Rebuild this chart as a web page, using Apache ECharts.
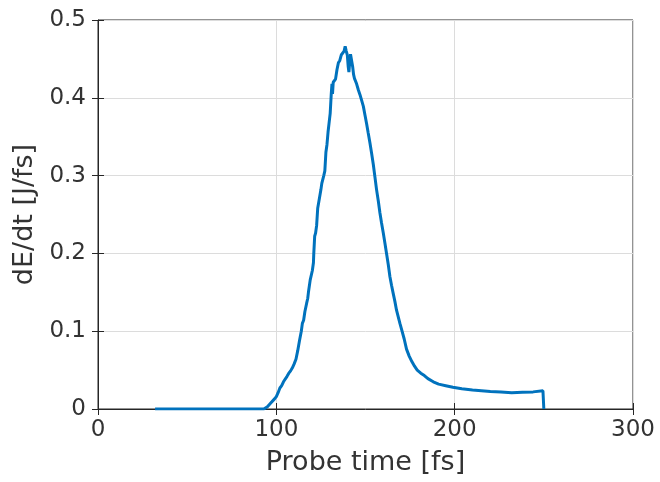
<!DOCTYPE html>
<html>
<head>
<meta charset="utf-8">
<script src="https://cdn.jsdelivr.net/npm/echarts@6/dist/echarts.min.js"></script>
<style>
  html, body { margin: 0; padding: 0; background: #fff; }
  #chart { width: 660px; height: 482px; }
</style>
</head>
<body>
<div id="chart"></div>
<script>
// Probe time samples [fs]
const probeTime = [
  32, 40, 50, 60, 70, 80, 90, 93,
  95, 97, 99, 100, 101, 102, 103, 104, 105, 106, 107, 108, 109, 110,
  111, 112, 113, 114, 114.6, 115.3, 116, 117, 117.6, 118, 119, 119.6,
  120.2, 120.8, 121, 121.5, 122, 122.6, 123.2, 123.8, 124.4, 125, 125.5,
  126, 126.6, 127.2, 127.8, 128.4, 129, 129.6, 130.2, 130.8, 131.2, 131.5,
  131.9, 132.5, 133.2, 134, 134.8, 135.6, 136.4, 137.2, 138, 138.6, 139.2,
  139.8, 140.3, 140.7, 141.1, 141.6, 142.2, 142.8, 143.3, 143.8, 144.4, 145,
  146, 146.9, 147.8, 148.8, 149.7, 150.6, 151.5, 152.5, 153.4, 154.4, 155.3,
  156.2, 157.2, 158.1, 159, 160, 160.9, 161.8, 162.8, 163.7, 164.6, 165.5,
  166.5, 167.4, 168.4, 169.3, 170.5, 171.7, 173, 174.5, 176, 177.5, 179,
  181, 183, 185, 188, 191, 195, 199, 204, 210, 215, 220, 226, 232, 238,
  244, 249.5, 250, 250
];

// Energy rate dE/dt [J/fs]
const dEdt = [
  0, 0, 0, 0, 0, 0, 0, 0,
  0.003, 0.008, 0.013, 0.016, 0.021, 0.027, 0.030, 0.035, 0.037, 0.042, 0.046, 0.049, 0.053, 0.058,
  0.064, 0.075, 0.088, 0.100, 0.110, 0.114, 0.125, 0.136, 0.142, 0.150, 0.166, 0.168,
  0.178, 0.188, 0.200, 0.222, 0.226, 0.236, 0.258, 0.266, 0.268, 0.282, 0.290,
  0.292, 0.300, 0.306, 0.330, 0.340, 0.356, 0.368, 0.380, 0.405, 0.418, 0.405,
  0.420, 0.422, 0.424, 0.436, 0.445, 0.448, 0.455, 0.456, 0.460, 0.466, 0.460,
  0.455, 0.440, 0.433, 0.445, 0.456, 0.454, 0.440, 0.430, 0.425, 0.425, 0.418,
  0.410, 0.404, 0.397, 0.389, 0.378, 0.367, 0.355, 0.342, 0.329, 0.314, 0.298,
  0.282, 0.267, 0.252, 0.239, 0.226, 0.213, 0.200, 0.185, 0.170, 0.159, 0.149,
  0.138, 0.127, 0.118, 0.110, 0.100, 0.090, 0.077, 0.068, 0.061, 0.055, 0.050,
  0.046, 0.043, 0.039, 0.035, 0.032, 0.030, 0.028, 0.026, 0.0245, 0.0235, 0.0225, 0.022, 0.021, 0.0215,
  0.022, 0.0235, 0.0235, 0
];

const xTicks = [0, 100, 200, 300];
const yTicks = [0, 0.1, 0.2, 0.3, 0.4, 0.5];

const textColor = '#333333';
const axisColor = '#262626';
const fontFamily = 'DejaVu Sans';

const seriesData = probeTime.map((t, i) => [t, dEdt[i]]);

const chart = echarts.init(document.getElementById('chart'), null, { renderer: 'canvas' });

const tickStyle = { show: true, inside: true, length: 6, lineStyle: { color: axisColor, width: 1 } };

chart.setOption({
  backgroundColor: '#ffffff',
  animation: false,
  grid: {
    left: 98, top: 20, width: 535, height: 389,
    show: true, borderColor: axisColor, borderWidth: 1, backgroundColor: '#ffffff'
  },
  xAxis: [
    {
      type: 'value', min: xTicks[0], max: xTicks[xTicks.length - 1], interval: 100,
      name: 'Probe time [fs]', nameLocation: 'middle', nameGap: 40,
      nameTextStyle: { color: textColor, fontSize: 27, fontFamily },
      axisLine: { show: true, lineStyle: { color: axisColor, width: 1 } },
      axisTick: tickStyle,
      axisLabel: { color: textColor, fontSize: 23, fontFamily, margin: 10 },
      splitLine: { show: true, lineStyle: { color: '#dcdcdc', width: 1 } }
    },
    {
      type: 'value', position: 'top', min: xTicks[0], max: xTicks[xTicks.length - 1], interval: 100,
      axisLine: { show: false }, axisTick: tickStyle, axisLabel: { show: false }, splitLine: { show: false }
    }
  ],
  yAxis: [
    {
      type: 'value', min: yTicks[0], max: yTicks[yTicks.length - 1], interval: 0.1,
      name: 'dE/dt [J/fs]', nameLocation: 'middle', nameGap: 60,
      nameTextStyle: { color: textColor, fontSize: 27, fontFamily },
      axisLine: { show: true, lineStyle: { color: axisColor, width: 1 } },
      axisTick: tickStyle,
      axisLabel: { color: textColor, fontSize: 23, fontFamily, margin: 12 },
      splitLine: { show: true, lineStyle: { color: '#dcdcdc', width: 1 } }
    },
    {
      type: 'value', position: 'right', min: yTicks[0], max: yTicks[yTicks.length - 1], interval: 0.1,
      axisLine: { show: false }, axisTick: tickStyle, axisLabel: { show: false }, splitLine: { show: false }
    }
  ],
  series: [{
    type: 'line',
    data: seriesData,
    xAxisIndex: 0, yAxisIndex: 0,
    showSymbol: false,
    smooth: false,
    lineStyle: { color: '#0072BD', width: 3 },
    z: 3
  }]
});
</script>
</body>
</html>
